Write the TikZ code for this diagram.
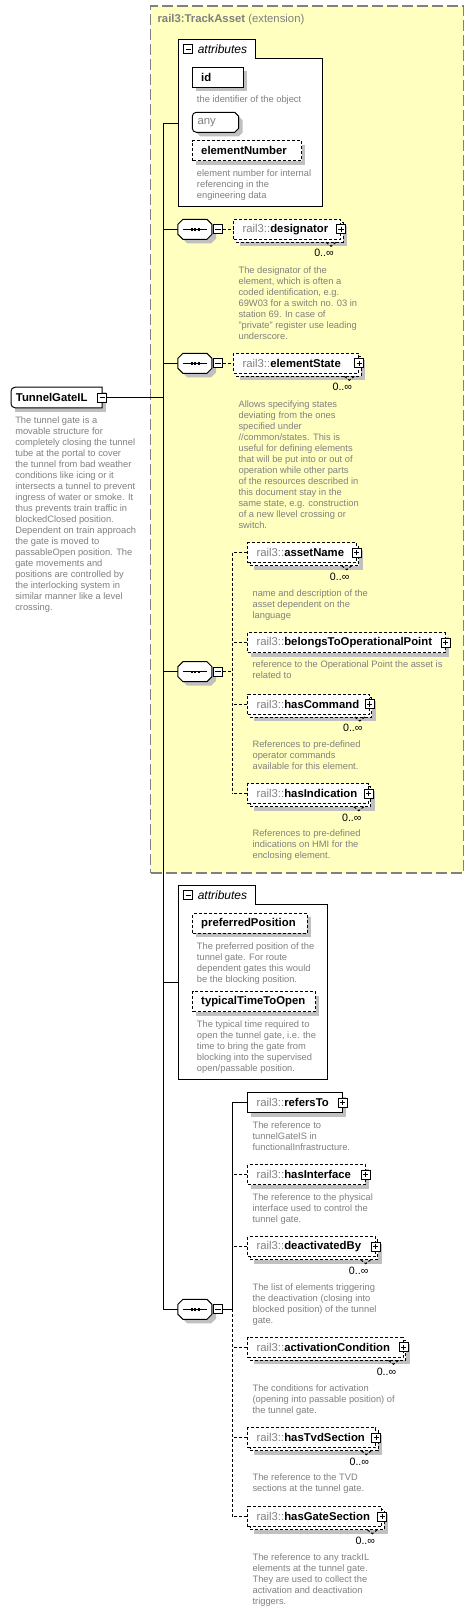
\documentclass[tikz,border=0pt]{standalone}
\usepackage{fontspec}
\setmainfont{Liberation Sans}
\definecolor{extfill}{RGB}{255,255,192}
\definecolor{extline}{RGB}{128,128,128}
\definecolor{desc}{RGB}{128,128,128}
\definecolor{pfx}{RGB}{128,128,128}
\definecolor{shadowc}{RGB}{192,192,192}
\newcommand\namefont{\fontsize{8.5}{10}\selectfont}
\newcommand\descfont{\fontsize{7}{8.25}\selectfont}
\newcommand\multfont{\fontsize{8}{9}\selectfont}
\tikzset{
  box/.style={draw=black, fill=white, line width=0.75pt, rectangle, inner sep=0pt, minimum height=15pt, anchor=west},
  opt/.style={dash pattern=on 2.25pt off 1.5pt},
  nm/.style={anchor=west, inner sep=0pt, font=\namefont, text=black},
  dsc/.style={anchor=north west, inner sep=0pt, align=left, font=\descfont, text=desc},
  mult/.style={anchor=east, inner sep=0pt, font=\multfont, text=black},
  pm/.style={draw=black, fill=white, line width=0.75pt, minimum size=6.75pt, inner sep=0pt},
  plusbox/.style={pm, path picture={\draw[line width=0.6pt] ([xshift=1.4pt]path picture bounding box.west) -- ([xshift=-1.4pt]path picture bounding box.east) ([yshift=-1.4pt]path picture bounding box.north) -- ([yshift=1.4pt]path picture bounding box.south);}},
  minusbox/.style={pm, path picture={\draw[line width=0.6pt] ([xshift=1.4pt]path picture bounding box.west) -- ([xshift=-1.4pt]path picture bounding box.east);}},
  conn/.style={line width=0.75pt, draw=black},
  dconn/.style={conn, opt},
}
% element: id, x1, x2, yc, style, repeated, prefix, name
\newcommand\Elem[8]{%
  \ifnum#6=1
    \fill[shadowc] ({#2+7},{#4-3}) rectangle ({#3+7},{#4+17});
    \draw[line width=0.75pt, fill=white, #5] ({#2+3},{#4-7}) rectangle ({#3+3},{#4+13});
    \draw[line width=0.75pt, #5] ({#3-14},{#4+13}) -- ({#3-9},{#4+17}) -- ({#3-4},{#4+13});
  \else
    \fill[shadowc] ({#2+4},{#4-6}) rectangle ({#3+4},{#4+14});
  \fi
  \node[box,#5,minimum width={(#3-#2)*0.75pt}] (#1) at (#2,#4) {};
  \node[nm] (#1-t) at ([xshift=6.75pt]#1.west) {\textcolor{pfx}{#7}\textbf{#8}};
  \node[plusbox] (#1-p) at (#1.east) {};
}
% attribute: id, x2, yc, style, text
\newcommand\Attr[5]{%
  \fill[shadowc] (196.3,{#3-6}) rectangle ({#2+4},{#3+14});
  \node[box,#4,minimum width={(#2-192.3)*0.75pt}] (#1) at (192.3,#3) {};
  \node[nm] (#1-t) at ([xshift=6.5pt]#1.west) {\textbf{#5}};
}
% sequence compositor: id, yc
\newcommand\Seq[2]{%
  \fill[shadowc] (182.2,{#2-1}) -- ++(5,-5) -- ++(24,0) -- ++(5,5) -- ++(0,10) -- ++(-5,5) -- ++(-24,0) -- ++(-5,-5) -- cycle;
  \node[inner sep=0pt, minimum width=25.5pt, minimum height=15pt] (#1) at (195.2,#2) {};
  \draw[line width=0.75pt, fill=white] (#1.west) ++(0,-5) -- ++(5,-5) -- ++(24,0) -- ++(5,5) -- ++(0,10) -- ++(-5,5) -- ++(-24,0) -- ++(-5,-5) -- cycle;
  \draw[line width=0.75pt] ([xshift=4pt]#1.west) -- ([xshift=-4pt]#1.east);
  \foreach \dx in {-3.5,0,3.5} \fill ([xshift=\dx*0.75pt]#1.center) ++(-1.2,-1.2) rectangle ++(2.4,2.4);
  \node[minusbox] (#1-m) at (218,#2) {};
}
\begin{document}
\begin{tikzpicture}[x=0.75pt,y=-0.75pt]
\fill[white] (0,0) rectangle (473,1611);
\useasboundingbox (0,0) rectangle (473,1611);

% extension area
\node[draw=extline, fill=extfill, line width=1.1pt, dash pattern=on 8.25pt off 3pt, inner sep=0pt, anchor=north west, minimum width=234.5pt, minimum height=650.25pt] (ext) at (150,5.3) {};
\node[anchor=west, inner sep=0pt, font=\namefont, text=pfx] (ext-t) at (157.3,20) {\textbf{rail3:TrackAsset} (extension)};

% bus
\coordinate (bt) at (163.3,122.8);
\coordinate (bb) at (163.3,1309.3);
\draw[conn] (bt) -- (bb);

% root element
\fill[shadowc] (15,391.5) rectangle (105.7,411.5);
\node[inner sep=0pt, minimum width=68pt, minimum height=15pt, anchor=west] (root) at (11,397.5) {};
\draw[line width=0.75pt, fill=white] (root.north east) -- ([xshift=3pt]root.north west) to[out=180,in=90] ([yshift=-3pt]root.north west) -- ([yshift=3pt]root.south west) to[out=-90,in=180] ([xshift=3pt]root.south west) -- (root.south east) -- cycle;
\node[nm] (root-t) at ([xshift=3.5pt]root.west) {\textbf{TunnelGateIL}};
\node[minusbox] (root-m) at (root.east) {};
\draw[conn] (root-m.east) -- (root-m.east -| bt);
\node[dsc] (root-d) at (15,416.5) {The tunnel gate is a\\movable structure for\\completely closing the tunnel\\tube at the portal to cover\\the tunnel from bad weather\\conditions like icing or it\\intersects a tunnel to prevent\\ingress of water or smoke. It\\thus prevents train traffic in\\blockedClosed position.\\Dependent on train approach\\the gate is moved to\\passableOpen position. The\\gate movements and\\positions are controlled by\\the interlocking system in\\similar manner like a level\\crossing.};

% attributes 1
\node[inner sep=0pt, anchor=north west, minimum width=107.55pt, minimum height=125.25pt] (att1) at (178.3,39.3) {};
\draw[line width=0.75pt, fill=white] (att1.south west) -- (att1.north west) -- ++(77,0) -- ++(0,19.4) -| (att1.south east) -- cycle;
\node[minusbox] (att1-m) at (188.3,49) {};
\node[anchor=west, inner sep=0pt, font=\fontsize{9}{10}\selectfont\itshape] (att1-t) at (197.5,49) {attributes};
\draw[conn] (att1.west) -- (att1.west -| bt);
\Attr{id}{243.3}{77.3}{solid}{id}
\node[dsc] (id-d) at (196.7,95.8) {the identifier of the object};
\fill[shadowc] (200.3,116.3) -- (238.7,116.3) -- (242.7,120.3) -- (242.7,132.3) -- (238.7,136.3) -- (200.3,136.3) -- (196.3,132.3) -- (196.3,120.3) -- cycle;
\node[inner sep=0pt, anchor=west, minimum width=34.8pt, minimum height=15pt] (any) at (192.3,122.3) {};
\draw[line width=0.75pt, fill=white] (196.3,112.3) -- (234.7,112.3) -- (238.7,116.3) -- (238.7,128.3) -- (234.7,132.3) -- (196.3,132.3) to[out=180,in=-90] (192.3,128.3) -- (192.3,116.3) to[out=90,in=180] (196.3,112.3) -- cycle;
\node[nm, text=pfx] (any-t) at ([xshift=3.7pt]any.west) {any};
\Attr{elementNumber}{301}{150.5}{opt}{elementNumber}
\node[dsc] (elementNumber-d) at (196.7,169.2) {element number for internal\\referencing in the\\engineering data};

% sequence 1: designator
\Seq{s1}{229.3}
\draw[conn] (s1.west) -- (s1.west -| bt);
\Elem{designator}{233.3}{340}{229.3}{opt}{1}{rail3::}{designator}
\draw[dconn] (s1-m.east) -- (designator.west);
\node[mult] (designator-mu) at (334,253.3) {0..∞};
\node[dsc] (designator-d) at (238.3,266.5) {The designator of the\\element, which is often a\\coded identification, e.g.\\69W03 for a switch no. 03 in\\station 69. In case of\\"private" register use leading\\underscore.};

% sequence 2: elementState
\Seq{s2}{363.3}
\draw[conn] (s2.west) -- (s2.west -| bt);
\Elem{elementState}{233.3}{358.3}{363.3}{opt}{1}{rail3::}{elementState}
\draw[dconn] (s2-m.east) -- (elementState.west);
\node[mult] (elementState-mu) at (352.3,387.3) {0..∞};
\node[dsc] (elementState-d) at (238.3,400.2) {Allows specifying states\\deviating from the ones\\specified under\\//common/states. This is\\useful for defining elements\\that will be put into or out of\\operation while other parts\\of the resources described in\\this document stay in the\\same state, e.g. construction\\of a new llevel crossing or\\switch.};

% sequence 3
\Seq{s3}{671.7}
\draw[conn] (s3.west) -- (s3.west -| bt);
\coordinate (j3) at (232.3,671.7);
\draw[dconn] (s3-m.east) -- (j3);
\Elem{assetName}{247.3}{355.7}{552.7}{opt}{1}{rail3::}{assetName}
\node[mult] (assetName-mu) at (349.7,576.7) {0..∞};
\node[dsc] (assetName-d) at (252.3,589.2) {name and description of the\\asset dependent on the\\language};
\Elem{belongs}{247.3}{444.5}{642.5}{opt}{0}{rail3::}{belongsToOperationalPoint}
\node[dsc] (belongs-d) at (252.3,660.8) {reference to the Operational Point the asset is\\related to};
\Elem{hasCommand}{247.3}{368.8}{704}{opt}{1}{rail3::}{hasCommand}
\node[mult] (hasCommand-mu) at (362.8,727.7) {0..∞};
\node[dsc] (hasCommand-d) at (252.3,740.5) {References to pre-defined\\operator commands\\available for this element.};
\Elem{hasIndication}{247.3}{367.8}{793.7}{opt}{1}{rail3::}{hasIndication}
\node[mult] (hasIndication-mu) at (361.8,817.7) {0..∞};
\node[dsc] (hasIndication-d) at (252.3,829.8) {References to pre-defined\\indications on HMI for the\\enclosing element.};
\draw[dconn] (assetName.west -| j3) -- (hasIndication.west -| j3);
\foreach \e in {assetName,belongs,hasCommand,hasIndication}
  \draw[dconn] (\e.west) -- (\e.west -| j3);

% attributes 2
\node[inner sep=0pt, anchor=north west, minimum width=111.3pt, minimum height=145.5pt] (att2) at (178.3,885.3) {};
\draw[line width=0.75pt, fill=white] (att2.south west) -- (att2.north west) -- ++(77,0) -- ++(0,19) -| (att2.south east) -- cycle;
\node[minusbox] (att2-m) at (188.3,895) {};
\node[anchor=west, inner sep=0pt, font=\fontsize{9}{10}\selectfont\itshape] (att2-t) at (197.5,895) {attributes};
\draw[conn] (att2.west) -- (att2.west -| bt);
\Attr{prefPos}{306.7}{923.3}{opt}{preferredPosition}
\node[dsc] (prefPos-d) at (196.7,942.5) {The preferred position of the\\tunnel gate. For route\\dependent gates this would\\be the blocking position.};
\Attr{typTime}{315}{1001.7}{opt}{typicalTimeToOpen}
\node[dsc] (typTime-d) at (196.7,1020.2) {The typical time required to\\open the tunnel gate, i.e. the\\time to bring the gate from\\blocking into the supervised\\open/passable position.};

% sequence 4
\Seq{s4}{1309.3}
\draw[conn] (s4.west) -- (s4.west -| bt);
\coordinate (j4) at (232.3,1309.3);
\draw[conn] (s4-m.east) -- (j4);
\Elem{refersTo}{247.3}{341.7}{1102.7}{solid}{0}{rail3::}{refersTo}
\node[dsc] (refersTo-d) at (252.3,1121.2) {The reference to\\tunnelGateIS in\\functionalInfrastructure.};
\Elem{hasInterface}{247.3}{364.7}{1174.7}{opt}{0}{rail3::}{hasInterface}
\node[dsc] (hasInterface-d) at (252.3,1193.2) {The reference to the physical\\interface used to control the\\tunnel gate.};
\Elem{deactivatedBy}{247.3}{374.7}{1246.7}{opt}{1}{rail3::}{deactivatedBy}
\node[mult] (deactivatedBy-mu) at (368.7,1270.7) {0..∞};
\node[dsc] (deactivatedBy-d) at (252.3,1283.2) {The list of elements triggering\\the deactivation (closing into\\blocked position) of the tunnel\\gate.};
\Elem{activationCondition}{247.3}{402.5}{1347.3}{opt}{1}{rail3::}{activationCondition}
\node[mult] (activationCondition-mu) at (396.5,1371.7) {0..∞};
\node[dsc] (activationCondition-d) at (252.3,1384.2) {The conditions for activation\\(opening into passable position) of\\the tunnel gate.};
\Elem{hasTvdSection}{247.3}{375.3}{1437.7}{opt}{1}{rail3::}{hasTvdSection}
\node[mult] (hasTvdSection-mu) at (369.3,1461.7) {0..∞};
\node[dsc] (hasTvdSection-d) at (252.3,1473.8) {The reference to the TVD\\sections at the tunnel gate.};
\Elem{hasGateSection}{247.3}{381.3}{1516.7}{opt}{1}{rail3::}{hasGateSection}
\node[mult] (hasGateSection-mu) at (375.3,1540.7) {0..∞};
\node[dsc] (hasGateSection-d) at (252.3,1553.2) {The reference to any trackIL\\elements at the tunnel gate.\\They are used to collect the\\activation and deactivation\\triggers.};
\draw[conn] (refersTo.west -| j4) -- (j4);
\draw[dconn] (j4) -- (hasGateSection.west -| j4);
\draw[conn] (refersTo.west) -- (refersTo.west -| j4);
\foreach \e in {hasInterface,deactivatedBy,activationCondition,hasTvdSection,hasGateSection}
  \draw[dconn] (\e.west) -- (\e.west -| j4);
\end{tikzpicture}
\end{document}
